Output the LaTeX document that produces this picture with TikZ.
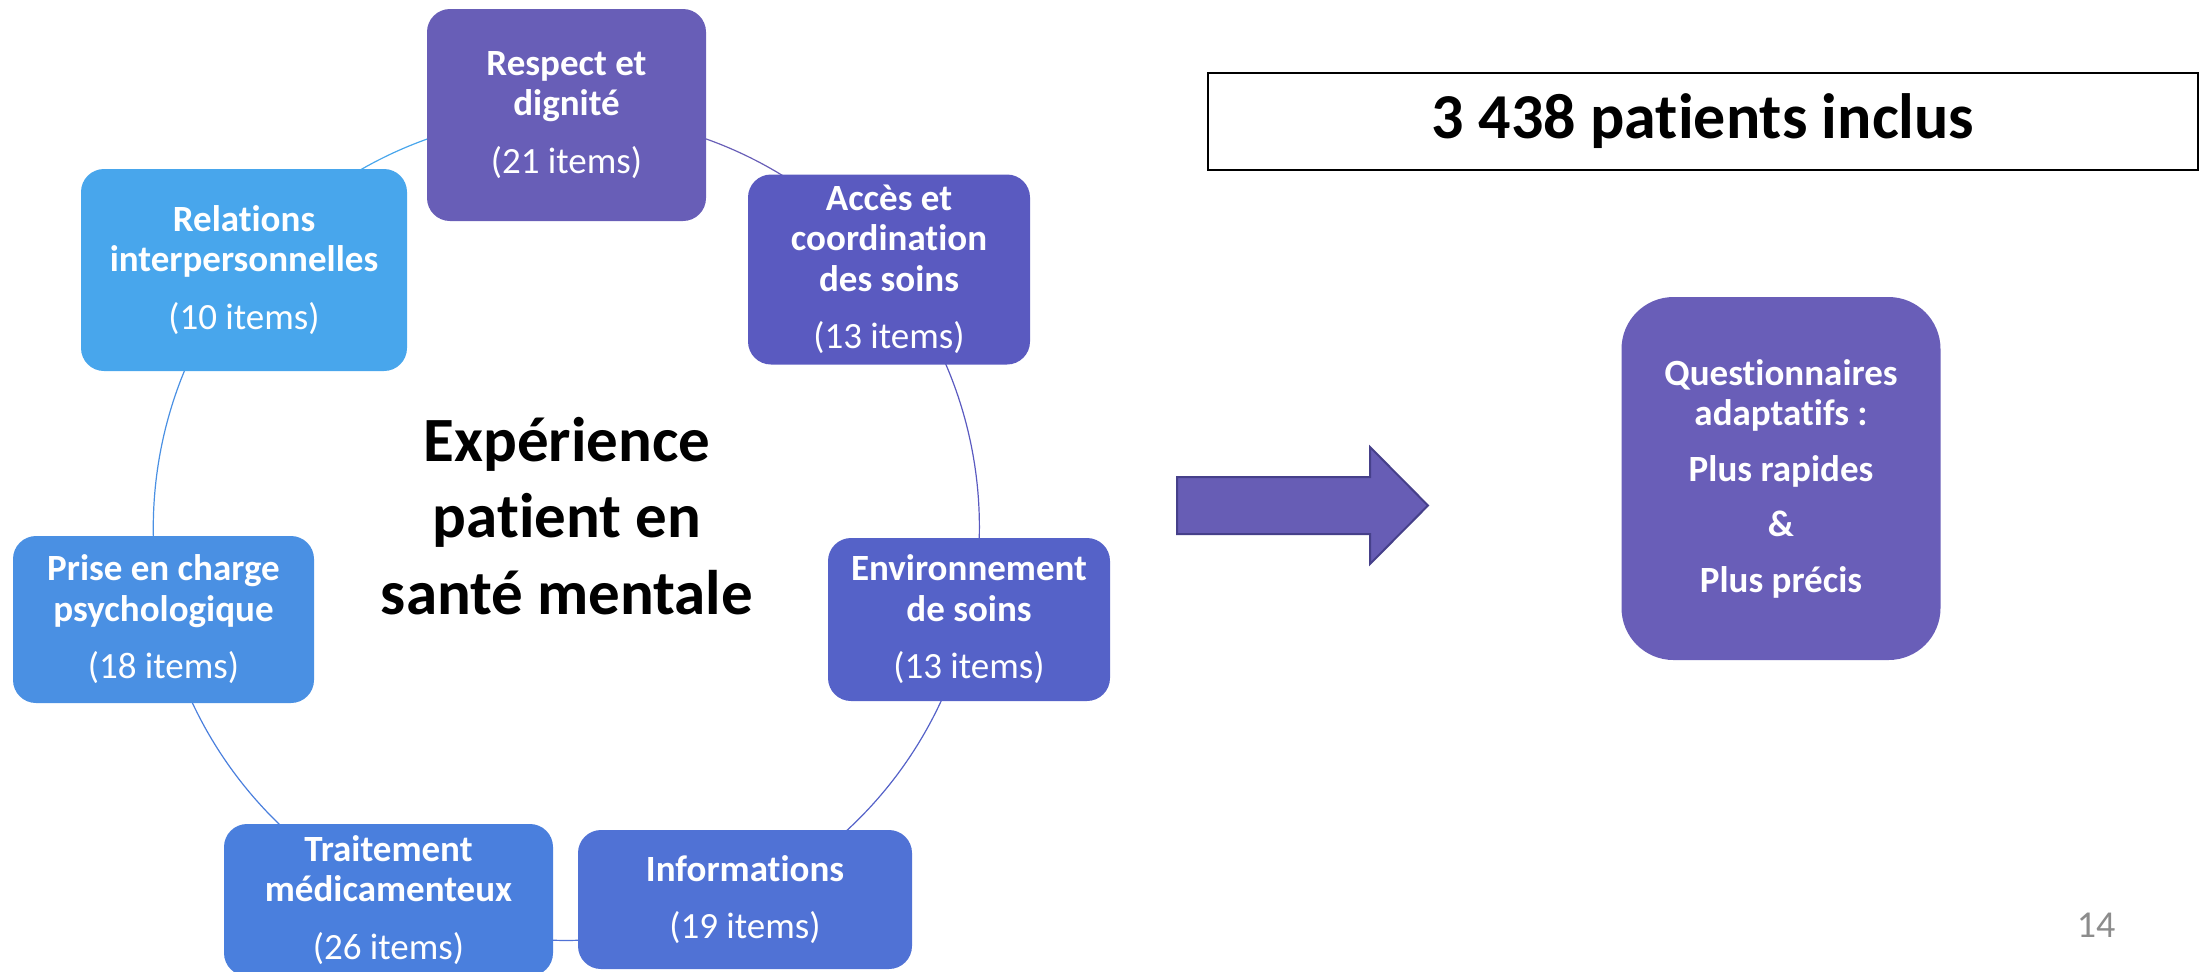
\documentclass[tikz,border=0pt]{standalone}
\usepackage{fontspec}
\setmainfont{Carlito}[Ligatures=NoCommon]
\usetikzlibrary{calc,backgrounds}
\definecolor{cRespect}{HTML}{685EB7}
\definecolor{cAcces}{HTML}{5A5AC0}
\definecolor{cEnv}{HTML}{5562C8}
\definecolor{cInfo}{HTML}{5072D5}
\definecolor{cTrait}{HTML}{4A7FDD}
\definecolor{cPrise}{HTML}{4A90E3}
\definecolor{cRel}{HTML}{48A6EC}
\definecolor{cQuest}{HTML}{695EB8}
\definecolor{cArrow}{HTML}{675DB5}
\definecolor{cArrowB}{HTML}{46408A}
\definecolor{cGray}{HTML}{8C8C8C}
\begin{document}
\begin{tikzpicture}[x=0.5pt,y=-0.5pt,
  box/.style={draw=none, text=white, align=center, inner sep=0pt, rounded corners=11.5pt,
    font=\fontsize{18.5}{20.25}\selectfont\bfseries},
  ring/.style={line width=0.6pt, bend left=25.7, looseness=0.9}
]
\useasboundingbox (0,0) rectangle (2200,971);

% ring of themes
\node[box, fill=cRespect, minimum width=139.5pt, minimum height=106pt] (respect) at (566.5,115)
  {Respect et\\dignité\\[8.5pt]{\mdseries (21 items)}};
\node[box, fill=cAcces, minimum width=141pt, minimum height=95pt] (acces) at (889,269.5)
  {Accès et\\coordination\\des soins\\[8.5pt]{\mdseries (13 items)}};
\node[box, fill=cEnv, minimum width=141pt, minimum height=81.5pt] (env) at (969,619.5)
  {Environnement\\de soins\\[8.5pt]{\mdseries (13 items)}};
\node[box, fill=cInfo, minimum width=167pt, minimum height=69.5pt] (info) at (745,899.5)
  {Informations\\[8.5pt]{\mdseries (19 items)}};
\node[box, fill=cTrait, minimum width=164.5pt, minimum height=76pt] (trait) at (388.5,900)
  {Traitement\\médicamenteux\\[8.5pt]{\mdseries (26 items)}};
\node[box, fill=cPrise, minimum width=150.5pt, minimum height=83.5pt] (prise) at (163.5,619.5)
  {Prise en charge\\psychologique\\[8.5pt]{\mdseries (18 items)}};
\node[box, fill=cRel, minimum width=163pt, minimum height=101pt] (rel) at (244,270)
  {Relations\\interpersonnelles\\[8.5pt]{\mdseries (10 items)}};

\begin{pgfonlayer}{background}
  \draw[ring, cRespect] (respect.center) to (acces.center);
  \draw[ring, cAcces] (acces.center) to (env.center);
  \draw[ring, cEnv] (env.center) to (info.center);
  \draw[ring, cInfo] (info.center) to (trait.center);
  \draw[ring, cTrait] (trait.center) to (prise.center);
  \draw[ring, cPrise] (prise.center) to (rel.center);
  \draw[ring, cRel] (rel.center) to (respect.center);
\end{pgfonlayer}

\node[align=center, inner sep=0pt, font=\fontsize{31.5}{38.25}\selectfont\bfseries] (title) at (567,516)
  {Expérience\\patient en\\santé mentale};

% arrow
\draw[fill=cArrow, draw=cArrowB, line width=1pt]
  (1177,477) -- (1370,477) -- (1370,447) -- (1428,505.5) -- (1370,564) -- (1370,534) -- (1177,534) -- cycle;

% right side
\node[draw=black, line width=1.25pt, minimum width=495pt, minimum height=48.5pt, inner sep=0pt,
  font=\fontsize{32}{38}\selectfont\bfseries] (inclus) at (1703,121.5) {3 438 patients inclus};

\node[box, fill=cQuest, minimum width=159.5pt, minimum height=181.5pt, rounded corners=26pt] (quest) at (1781,478.5)
  {Questionnaires\\adaptatifs :\\[7.5pt]Plus rapides\\[7.5pt]\&\\[7.5pt]Plus précis};

\node[text=cGray, inner sep=0pt, font=\fontsize{19}{22}\selectfont] (page) at (2096,925) {14};
\end{tikzpicture}
\end{document}
